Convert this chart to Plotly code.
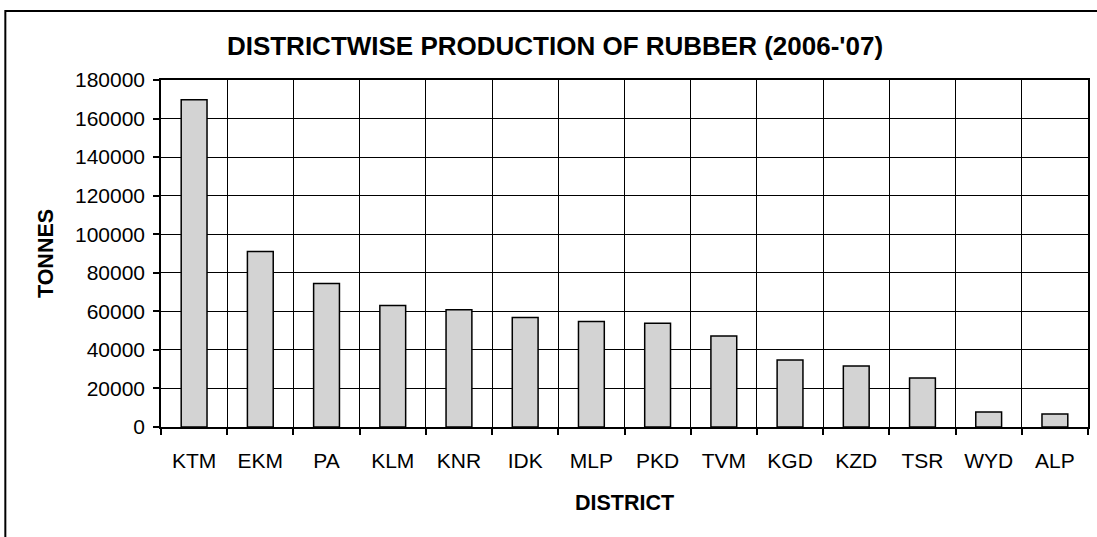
import plotly.graph_objects as go

districts = ["KTM", "EKM", "PA", "KLM", "KNR", "IDK", "MLP", "PKD", "TVM", "KGD", "KZD", "TSR", "WYD", "ALP"]
production = [169800, 91000, 74400, 63000, 60800, 56800, 54700, 53800, 47200, 34800, 31600, 25400, 7800, 6700]
y_ticks = [0, 20000, 40000, 60000, 80000, 100000, 120000, 140000, 160000, 180000]

FONT = "Liberation Sans, Arial, sans-serif"
W, H = 1097, 537
L, R, T, B = 161, 7, 80, 110
pw, ph = W - L - R, H - T - B

fig = go.Figure(go.Bar(
    x=districts, y=production,
    marker=dict(color="#d3d3d3", line=dict(color="black", width=1.5)),
))

fig.update_layout(
    width=W, height=H,
    margin=dict(l=L, r=R, t=T, b=B, pad=0),
    paper_bgcolor="white", plot_bgcolor="white",
    bargap=0.61,
    showlegend=False,
    font=dict(family=FONT, color="black", size=21),
    title=dict(
        text="DISTRICTWISE PRODUCTION OF RUBBER (2006-'07)",
        font=dict(family=FONT, size=26, weight="bold", color="black"),
        x=555 / W, xref="container", xanchor="center",
        y=1 - 46 / H, yref="container", yanchor="middle",
    ),
    xaxis=dict(
        type="category", tickson="boundaries",
        showgrid=True, gridcolor="black", gridwidth=1,
        showline=True, linecolor="black", linewidth=1.5, mirror=True,
        ticks="outside", ticklen=6, tickcolor="black", tickwidth=1.5,
        tickfont=dict(size=21), ticklabelstandoff=14,
        title=dict(text="DISTRICT", font=dict(size=21.5, weight="bold"), standoff=24),
    ),
    yaxis=dict(
        range=[0, 180000], tickvals=y_ticks, tickformat="d",
        showgrid=True, gridcolor="black", gridwidth=1,
        showline=True, linecolor="black", linewidth=1.5, mirror=True,
        ticks="outside", ticklen=6, tickcolor="black", tickwidth=1.5,
        tickfont=dict(size=21), ticklabelstandoff=4,
        zeroline=False,
        title=dict(text="TONNES", font=dict(size=21.5, weight="bold"), standoff=15),
    ),
    shapes=[dict(
        type="rect", xref="paper", yref="paper",
        x0=(5 - L) / pw, x1=(W + 10 - L) / pw,
        y0=-(H + 10 - (H - B)) / ph, y1=((H - B) - 11) / ph,
        line=dict(color="black", width=2), fillcolor="rgba(0,0,0,0)",
        layer="below",
    )],
)

fig.write_html(
    "out.html",
    config={"displayModeBar": False},
    post_script="document.body.style.margin='0';document.body.style.overflow='hidden';",
)
